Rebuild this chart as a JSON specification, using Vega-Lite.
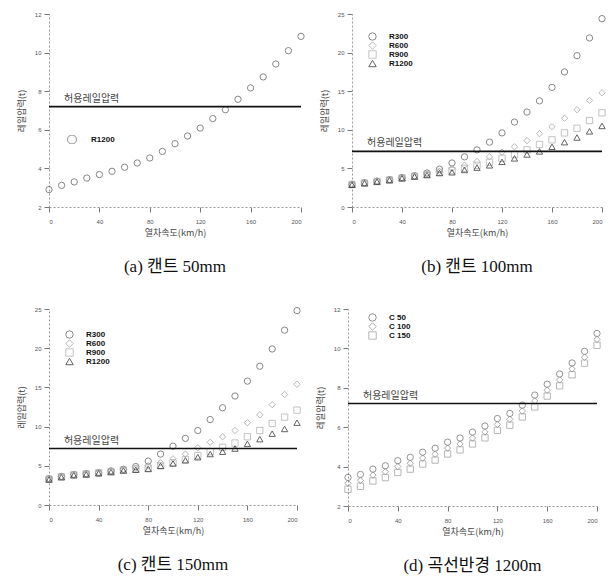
{
  "$schema": "https://vega.github.io/schema/vega-lite/v6.json",
  "background": "white",
  "padding": {"left": 17, "top": 11, "right": 4, "bottom": 4},
  "config": {
    "view": {"stroke": null},
    "font": "Noto Sans CJK KR",
    "axis": {"labelFontSize": 6, "labelColor": "#555", "titleFontSize": 9, "titleFontWeight": "normal", "titleColor": "#444", "tickColor": "#777", "tickSize": 5, "domainColor": "#999", "domainDash": [2, 2], "grid": false, "labelFont": "Liberation Sans", "labelOverlap": false, "labelSeparation": 0, "tickCount": 12},
    "axisX": {"labelPadding": 6, "titlePadding": 4},
    "axisY": {"labelPadding": 3, "titlePadding": 8},
    "legend": {"labelFont": "Liberation Sans", "labelFontWeight": "bold", "labelFontSize": 8, "labelColor": "#111", "symbolStrokeWidth": 1, "symbolSize": 55, "rowPadding": 0, "clipHeight": 9, "padding": 0},
    "title": {"font": "Liberation Serif, Noto Sans CJK KR", "fontSize": 17, "fontWeight": "normal", "color": "#111", "orient": "bottom", "offset": 22},
    "concat": {"spacing": 10}
  },
  "datasets": {
    "a": [
      {"v": 0, "r": "R1200", "p": 2.9}, {"v": 10, "r": "R1200", "p": 3.12}, {"v": 20, "r": "R1200", "p": 3.3}, {"v": 30, "r": "R1200", "p": 3.5}, {"v": 40, "r": "R1200", "p": 3.68}, {"v": 50, "r": "R1200", "p": 3.85}, {"v": 60, "r": "R1200", "p": 4.06}, {"v": 70, "r": "R1200", "p": 4.28}, {"v": 80, "r": "R1200", "p": 4.54}, {"v": 90, "r": "R1200", "p": 4.88}, {"v": 100, "r": "R1200", "p": 5.28}, {"v": 110, "r": "R1200", "p": 5.68}, {"v": 120, "r": "R1200", "p": 6.09}, {"v": 130, "r": "R1200", "p": 6.58}, {"v": 140, "r": "R1200", "p": 7.04}, {"v": 150, "r": "R1200", "p": 7.58}, {"v": 160, "r": "R1200", "p": 8.17}, {"v": 170, "r": "R1200", "p": 8.74}, {"v": 180, "r": "R1200", "p": 9.41}, {"v": 190, "r": "R1200", "p": 10.1}, {"v": 200, "r": "R1200", "p": 10.84}
    ],
    "b": [
      {"v": 0, "r": "R300", "p": 2.95}, {"v": 10, "r": "R300", "p": 3.15}, {"v": 20, "r": "R300", "p": 3.35}, {"v": 30, "r": "R300", "p": 3.55}, {"v": 40, "r": "R300", "p": 3.8}, {"v": 50, "r": "R300", "p": 4.05}, {"v": 60, "r": "R300", "p": 4.4}, {"v": 70, "r": "R300", "p": 4.9}, {"v": 80, "r": "R300", "p": 5.7}, {"v": 90, "r": "R300", "p": 6.5}, {"v": 100, "r": "R300", "p": 7.4}, {"v": 110, "r": "R300", "p": 8.4}, {"v": 120, "r": "R300", "p": 9.6}, {"v": 130, "r": "R300", "p": 11.0}, {"v": 140, "r": "R300", "p": 12.3}, {"v": 150, "r": "R300", "p": 13.75}, {"v": 160, "r": "R300", "p": 15.5}, {"v": 170, "r": "R300", "p": 17.5}, {"v": 180, "r": "R300", "p": 19.6}, {"v": 190, "r": "R300", "p": 21.9}, {"v": 200, "r": "R300", "p": 24.4},
      {"v": 0, "r": "R600", "p": 2.9}, {"v": 10, "r": "R600", "p": 3.1}, {"v": 20, "r": "R600", "p": 3.3}, {"v": 30, "r": "R600", "p": 3.5}, {"v": 40, "r": "R600", "p": 3.75}, {"v": 50, "r": "R600", "p": 3.97}, {"v": 60, "r": "R600", "p": 4.25}, {"v": 70, "r": "R600", "p": 4.6}, {"v": 80, "r": "R600", "p": 5.0}, {"v": 90, "r": "R600", "p": 5.4}, {"v": 100, "r": "R600", "p": 5.9}, {"v": 110, "r": "R600", "p": 6.5}, {"v": 120, "r": "R600", "p": 7.1}, {"v": 130, "r": "R600", "p": 7.8}, {"v": 140, "r": "R600", "p": 8.6}, {"v": 150, "r": "R600", "p": 9.5}, {"v": 160, "r": "R600", "p": 10.4}, {"v": 170, "r": "R600", "p": 11.5}, {"v": 180, "r": "R600", "p": 12.6}, {"v": 190, "r": "R600", "p": 13.8}, {"v": 200, "r": "R600", "p": 14.8},
      {"v": 0, "r": "R900", "p": 2.9}, {"v": 10, "r": "R900", "p": 3.1}, {"v": 20, "r": "R900", "p": 3.3}, {"v": 30, "r": "R900", "p": 3.5}, {"v": 40, "r": "R900", "p": 3.75}, {"v": 50, "r": "R900", "p": 3.97}, {"v": 60, "r": "R900", "p": 4.2}, {"v": 70, "r": "R900", "p": 4.5}, {"v": 80, "r": "R900", "p": 4.7}, {"v": 90, "r": "R900", "p": 5.0}, {"v": 100, "r": "R900", "p": 5.4}, {"v": 110, "r": "R900", "p": 5.8}, {"v": 120, "r": "R900", "p": 6.3}, {"v": 130, "r": "R900", "p": 6.8}, {"v": 140, "r": "R900", "p": 7.4}, {"v": 150, "r": "R900", "p": 8.1}, {"v": 160, "r": "R900", "p": 8.7}, {"v": 170, "r": "R900", "p": 9.6}, {"v": 180, "r": "R900", "p": 10.2}, {"v": 190, "r": "R900", "p": 11.2}, {"v": 200, "r": "R900", "p": 12.2},
      {"v": 0, "r": "R1200", "p": 2.88}, {"v": 10, "r": "R1200", "p": 3.08}, {"v": 20, "r": "R1200", "p": 3.28}, {"v": 30, "r": "R1200", "p": 3.48}, {"v": 40, "r": "R1200", "p": 3.72}, {"v": 50, "r": "R1200", "p": 3.95}, {"v": 60, "r": "R1200", "p": 4.15}, {"v": 70, "r": "R1200", "p": 4.4}, {"v": 80, "r": "R1200", "p": 4.5}, {"v": 90, "r": "R1200", "p": 4.8}, {"v": 100, "r": "R1200", "p": 5.1}, {"v": 110, "r": "R1200", "p": 5.4}, {"v": 120, "r": "R1200", "p": 5.85}, {"v": 130, "r": "R1200", "p": 6.3}, {"v": 140, "r": "R1200", "p": 6.8}, {"v": 150, "r": "R1200", "p": 7.2}, {"v": 160, "r": "R1200", "p": 7.8}, {"v": 170, "r": "R1200", "p": 8.4}, {"v": 180, "r": "R1200", "p": 9.0}, {"v": 190, "r": "R1200", "p": 9.8}, {"v": 200, "r": "R1200", "p": 10.5}
    ],
    "c": [
      {"v": 0, "r": "R300", "p": 3.35}, {"v": 10, "r": "R300", "p": 3.65}, {"v": 20, "r": "R300", "p": 3.9}, {"v": 30, "r": "R300", "p": 4.0}, {"v": 40, "r": "R300", "p": 4.1}, {"v": 50, "r": "R300", "p": 4.35}, {"v": 60, "r": "R300", "p": 4.55}, {"v": 70, "r": "R300", "p": 4.9}, {"v": 80, "r": "R300", "p": 5.6}, {"v": 90, "r": "R300", "p": 6.5}, {"v": 100, "r": "R300", "p": 7.5}, {"v": 110, "r": "R300", "p": 8.5}, {"v": 120, "r": "R300", "p": 9.5}, {"v": 130, "r": "R300", "p": 10.9}, {"v": 140, "r": "R300", "p": 12.4}, {"v": 150, "r": "R300", "p": 13.9}, {"v": 160, "r": "R300", "p": 15.8}, {"v": 170, "r": "R300", "p": 17.7}, {"v": 180, "r": "R300", "p": 19.9}, {"v": 190, "r": "R300", "p": 22.3}, {"v": 200, "r": "R300", "p": 24.8},
      {"v": 0, "r": "R600", "p": 3.3}, {"v": 10, "r": "R600", "p": 3.6}, {"v": 20, "r": "R600", "p": 3.85}, {"v": 30, "r": "R600", "p": 3.95}, {"v": 40, "r": "R600", "p": 4.1}, {"v": 50, "r": "R600", "p": 4.3}, {"v": 60, "r": "R600", "p": 4.5}, {"v": 70, "r": "R600", "p": 4.7}, {"v": 80, "r": "R600", "p": 5.0}, {"v": 90, "r": "R600", "p": 5.4}, {"v": 100, "r": "R600", "p": 5.9}, {"v": 110, "r": "R600", "p": 6.5}, {"v": 120, "r": "R600", "p": 7.3}, {"v": 130, "r": "R600", "p": 8.0}, {"v": 140, "r": "R600", "p": 8.7}, {"v": 150, "r": "R600", "p": 9.5}, {"v": 160, "r": "R600", "p": 10.5}, {"v": 170, "r": "R600", "p": 11.5}, {"v": 180, "r": "R600", "p": 12.8}, {"v": 190, "r": "R600", "p": 14.1}, {"v": 200, "r": "R600", "p": 15.4},
      {"v": 0, "r": "R900", "p": 3.3}, {"v": 10, "r": "R900", "p": 3.6}, {"v": 20, "r": "R900", "p": 3.85}, {"v": 30, "r": "R900", "p": 3.95}, {"v": 40, "r": "R900", "p": 4.1}, {"v": 50, "r": "R900", "p": 4.25}, {"v": 60, "r": "R900", "p": 4.45}, {"v": 70, "r": "R900", "p": 4.6}, {"v": 80, "r": "R900", "p": 4.7}, {"v": 90, "r": "R900", "p": 5.0}, {"v": 100, "r": "R900", "p": 5.4}, {"v": 110, "r": "R900", "p": 5.8}, {"v": 120, "r": "R900", "p": 6.3}, {"v": 130, "r": "R900", "p": 6.8}, {"v": 140, "r": "R900", "p": 7.35}, {"v": 150, "r": "R900", "p": 7.9}, {"v": 160, "r": "R900", "p": 8.7}, {"v": 170, "r": "R900", "p": 9.5}, {"v": 180, "r": "R900", "p": 10.4}, {"v": 190, "r": "R900", "p": 11.2}, {"v": 200, "r": "R900", "p": 12.1},
      {"v": 0, "r": "R1200", "p": 3.25}, {"v": 10, "r": "R1200", "p": 3.55}, {"v": 20, "r": "R1200", "p": 3.8}, {"v": 30, "r": "R1200", "p": 3.9}, {"v": 40, "r": "R1200", "p": 4.05}, {"v": 50, "r": "R1200", "p": 4.2}, {"v": 60, "r": "R1200", "p": 4.4}, {"v": 70, "r": "R1200", "p": 4.5}, {"v": 80, "r": "R1200", "p": 4.6}, {"v": 90, "r": "R1200", "p": 5.0}, {"v": 100, "r": "R1200", "p": 5.3}, {"v": 110, "r": "R1200", "p": 5.7}, {"v": 120, "r": "R1200", "p": 6.1}, {"v": 130, "r": "R1200", "p": 6.5}, {"v": 140, "r": "R1200", "p": 6.8}, {"v": 150, "r": "R1200", "p": 7.2}, {"v": 160, "r": "R1200", "p": 7.8}, {"v": 170, "r": "R1200", "p": 8.4}, {"v": 180, "r": "R1200", "p": 9.1}, {"v": 190, "r": "R1200", "p": 9.7}, {"v": 200, "r": "R1200", "p": 10.5}
    ],
    "d": [
      {"v": 0, "r": "C  50", "p": 3.45}, {"v": 10, "r": "C  50", "p": 3.6}, {"v": 20, "r": "C  50", "p": 3.87}, {"v": 30, "r": "C  50", "p": 4.04}, {"v": 40, "r": "C  50", "p": 4.3}, {"v": 50, "r": "C  50", "p": 4.47}, {"v": 60, "r": "C  50", "p": 4.73}, {"v": 70, "r": "C  50", "p": 4.93}, {"v": 80, "r": "C  50", "p": 5.24}, {"v": 90, "r": "C  50", "p": 5.45}, {"v": 100, "r": "C  50", "p": 5.75}, {"v": 110, "r": "C  50", "p": 6.06}, {"v": 120, "r": "C  50", "p": 6.44}, {"v": 130, "r": "C  50", "p": 6.7}, {"v": 140, "r": "C  50", "p": 7.12}, {"v": 150, "r": "C  50", "p": 7.63}, {"v": 160, "r": "C  50", "p": 8.18}, {"v": 170, "r": "C  50", "p": 8.7}, {"v": 180, "r": "C  50", "p": 9.26}, {"v": 190, "r": "C  50", "p": 9.85}, {"v": 200, "r": "C  50", "p": 10.76},
      {"v": 0, "r": "C 100", "p": 3.15}, {"v": 10, "r": "C 100", "p": 3.3}, {"v": 20, "r": "C 100", "p": 3.57}, {"v": 30, "r": "C 100", "p": 3.74}, {"v": 40, "r": "C 100", "p": 4.0}, {"v": 50, "r": "C 100", "p": 4.17}, {"v": 60, "r": "C 100", "p": 4.43}, {"v": 70, "r": "C 100", "p": 4.63}, {"v": 80, "r": "C 100", "p": 4.94}, {"v": 90, "r": "C 100", "p": 5.15}, {"v": 100, "r": "C 100", "p": 5.45}, {"v": 110, "r": "C 100", "p": 5.76}, {"v": 120, "r": "C 100", "p": 6.14}, {"v": 130, "r": "C 100", "p": 6.4}, {"v": 140, "r": "C 100", "p": 6.82}, {"v": 150, "r": "C 100", "p": 7.33}, {"v": 160, "r": "C 100", "p": 7.88}, {"v": 170, "r": "C 100", "p": 8.4}, {"v": 180, "r": "C 100", "p": 8.96}, {"v": 190, "r": "C 100", "p": 9.55}, {"v": 200, "r": "C 100", "p": 10.46},
      {"v": 0, "r": "C 150", "p": 2.85}, {"v": 10, "r": "C 150", "p": 3.0}, {"v": 20, "r": "C 150", "p": 3.27}, {"v": 30, "r": "C 150", "p": 3.44}, {"v": 40, "r": "C 150", "p": 3.7}, {"v": 50, "r": "C 150", "p": 3.87}, {"v": 60, "r": "C 150", "p": 4.13}, {"v": 70, "r": "C 150", "p": 4.33}, {"v": 80, "r": "C 150", "p": 4.64}, {"v": 90, "r": "C 150", "p": 4.85}, {"v": 100, "r": "C 150", "p": 5.15}, {"v": 110, "r": "C 150", "p": 5.46}, {"v": 120, "r": "C 150", "p": 5.84}, {"v": 130, "r": "C 150", "p": 6.1}, {"v": 140, "r": "C 150", "p": 6.52}, {"v": 150, "r": "C 150", "p": 7.03}, {"v": 160, "r": "C 150", "p": 7.58}, {"v": 170, "r": "C 150", "p": 8.1}, {"v": 180, "r": "C 150", "p": 8.66}, {"v": 190, "r": "C 150", "p": 9.25}, {"v": 200, "r": "C 150", "p": 10.16}
    ]
  },
  "resolve": {"scale": {"shape": "independent", "color": "independent"}, "legend": {"shape": "independent", "color": "independent"}},
  "spacing": 30,
  "vconcat": [
    {
      "resolve": {"scale": {"shape": "independent", "color": "independent"}, "legend": {"shape": "independent", "color": "independent"}},
      "spacing": 13,
      "hconcat": [
        {
          "title": "(a) 캔트 50mm",
          "width": 252, "height": 193,
          "layer": [
            {
              "data": {"name": "a"},
              "mark": {"type": "point", "filled": false, "strokeWidth": 1, "size": 40},
              "encoding": {
                "x": {"field": "v", "type": "quantitative", "scale": {"domain": [0, 200], "nice": false}, "axis": {"values": [0, 40, 80, 120, 160, 200], "tickCount": 12, "title": "열차속도(km/h)", "labelOverlap": false}},
                "y": {"field": "p", "type": "quantitative", "scale": {"domain": [2, 12], "nice": false, "zero": false}, "axis": {"values": [2, 4, 6, 8, 10, 12], "tickCount": 12, "title": "레일압력(t)", "labelOverlap": false}},
                "shape": {"field": "r", "type": "nominal", "scale": {"domain": ["R1200"], "range": ["circle"]}, "legend": {"orient": "none", "legendX": 18, "legendY": 121, "symbolSize": 80, "labelOffset": 14, "title": null}},
                "color": {"field": "r", "type": "nominal", "scale": {"domain": ["R1200"], "range": ["#555"]}, "legend": {"orient": "none", "legendX": 18, "legendY": 121, "symbolSize": 80, "labelOffset": 14, "title": null}}
              }
            },
            {"data": {"values": [{}]}, "mark": {"type": "rule", "color": "#111", "strokeWidth": 1.6}, "encoding": {"y": {"datum": 7.2, "type": "quantitative"}}},
            {"data": {"values": [{}]}, "mark": {"type": "text", "align": "left", "baseline": "bottom", "fontSize": 10, "color": "#444", "dy": -3}, "encoding": {"x": {"datum": 12, "type": "quantitative"}, "y": {"datum": 7.2, "type": "quantitative"}, "text": {"value": "허용레일압력"}}}
          ]
        },
        {
          "title": "(b) 캔트 100mm",
          "width": 250, "height": 193,
          "layer": [
            {
              "data": {"name": "b"},
              "mark": {"type": "point", "filled": false, "strokeWidth": 1, "size": 40},
              "encoding": {
                "x": {"field": "v", "type": "quantitative", "scale": {"domain": [0, 200], "nice": false}, "axis": {"values": [0, 40, 80, 120, 160, 200], "tickCount": 12, "title": "열차속도(km/h)", "labelOverlap": false}},
                "y": {"field": "p", "type": "quantitative", "scale": {"domain": [0, 25], "nice": false}, "axis": {"values": [0, 5, 10, 15, 20, 25], "tickCount": 12, "title": "레일압력(t)", "labelOverlap": false}},
                "shape": {"field": "r", "type": "nominal", "scale": {"domain": ["R300", "R600", "R900", "R1200"], "range": ["circle", "diamond", "square", "triangle-up"]}, "legend": {"orient": "none", "legendX": 16, "legendY": 18, "labelOffset": 12, "title": null}},
                "color": {"field": "r", "type": "nominal", "scale": {"domain": ["R300", "R600", "R900", "R1200"], "range": ["#555", "#999", "#aaa", "#222"]}, "legend": {"orient": "none", "legendX": 16, "legendY": 18, "labelOffset": 12, "title": null}}
              }
            },
            {"data": {"values": [{}]}, "mark": {"type": "rule", "color": "#111", "strokeWidth": 1.6}, "encoding": {"y": {"datum": 7.2, "type": "quantitative"}}},
            {"data": {"values": [{}]}, "mark": {"type": "text", "align": "left", "baseline": "bottom", "fontSize": 10, "color": "#444", "dy": -3}, "encoding": {"x": {"datum": 12, "type": "quantitative"}, "y": {"datum": 7.2, "type": "quantitative"}, "text": {"value": "허용레일압력"}}}
          ]
        }
      ]
    },
    {
      "resolve": {"scale": {"shape": "independent", "color": "independent"}, "legend": {"shape": "independent", "color": "independent"}},
      "spacing": 13,
      "hconcat": [
        {
          "title": "(c) 캔트 150mm",
          "width": 248, "height": 196,
          "layer": [
            {
              "data": {"name": "c"},
              "mark": {"type": "point", "filled": false, "strokeWidth": 1, "size": 40},
              "encoding": {
                "x": {"field": "v", "type": "quantitative", "scale": {"domain": [0, 200], "nice": false}, "axis": {"values": [0, 40, 80, 120, 160, 200], "tickCount": 12, "title": "열차속도(km/h)", "labelOverlap": false}},
                "y": {"field": "p", "type": "quantitative", "scale": {"domain": [0, 25], "nice": false}, "axis": {"values": [0, 5, 10, 15, 20, 25], "tickCount": 12, "title": "레일압력(t)", "labelOverlap": false}},
                "shape": {"field": "r", "type": "nominal", "scale": {"domain": ["R300", "R600", "R900", "R1200"], "range": ["circle", "diamond", "square", "triangle-up"]}, "legend": {"orient": "none", "legendX": 16, "legendY": 21, "labelOffset": 12, "title": null}},
                "color": {"field": "r", "type": "nominal", "scale": {"domain": ["R300", "R600", "R900", "R1200"], "range": ["#555", "#999", "#aaa", "#222"]}, "legend": {"orient": "none", "legendX": 16, "legendY": 21, "labelOffset": 12, "title": null}}
              }
            },
            {"data": {"values": [{}]}, "mark": {"type": "rule", "color": "#111", "strokeWidth": 1.6}, "encoding": {"y": {"datum": 7.2, "type": "quantitative"}}},
            {"data": {"values": [{}]}, "mark": {"type": "text", "align": "left", "baseline": "bottom", "fontSize": 10, "color": "#444", "dy": -3}, "encoding": {"x": {"datum": 12, "type": "quantitative"}, "y": {"datum": 7.2, "type": "quantitative"}, "text": {"value": "허용레일압력"}}}
          ]
        },
        {
          "title": "(d) 곡선반경 1200m",
          "width": 249, "height": 197,
          "layer": [
            {
              "data": {"name": "d"},
              "mark": {"type": "point", "filled": false, "strokeWidth": 1, "size": 40},
              "encoding": {
                "x": {"field": "v", "type": "quantitative", "scale": {"domain": [0, 200], "nice": false}, "axis": {"values": [0, 40, 80, 120, 160, 200], "tickCount": 12, "title": "열차속도(km/h)", "labelOverlap": false}},
                "y": {"field": "p", "type": "quantitative", "scale": {"domain": [2, 12], "nice": false, "zero": false}, "axis": {"values": [2, 4, 6, 8, 10, 12], "tickCount": 12, "title": "레일압력(t)", "labelOverlap": false}},
                "shape": {"field": "r", "type": "nominal", "scale": {"domain": ["C  50", "C 100", "C 150"], "range": ["circle", "diamond", "square"]}, "legend": {"orient": "none", "legendX": 20, "legendY": 4, "labelOffset": 12, "title": null}},
                "color": {"field": "r", "type": "nominal", "scale": {"domain": ["C  50", "C 100", "C 150"], "range": ["#666", "#888", "#999"]}, "legend": {"orient": "none", "legendX": 20, "legendY": 4, "labelOffset": 12, "title": null}}
              }
            },
            {"data": {"values": [{}]}, "mark": {"type": "rule", "color": "#111", "strokeWidth": 1.6}, "encoding": {"y": {"datum": 7.2, "type": "quantitative"}}},
            {"data": {"values": [{}]}, "mark": {"type": "text", "align": "left", "baseline": "bottom", "fontSize": 10, "color": "#444", "dy": -3}, "encoding": {"x": {"datum": 12, "type": "quantitative"}, "y": {"datum": 7.2, "type": "quantitative"}, "text": {"value": "허용레일압력"}}}
          ]
        }
      ]
    }
  ]
}
